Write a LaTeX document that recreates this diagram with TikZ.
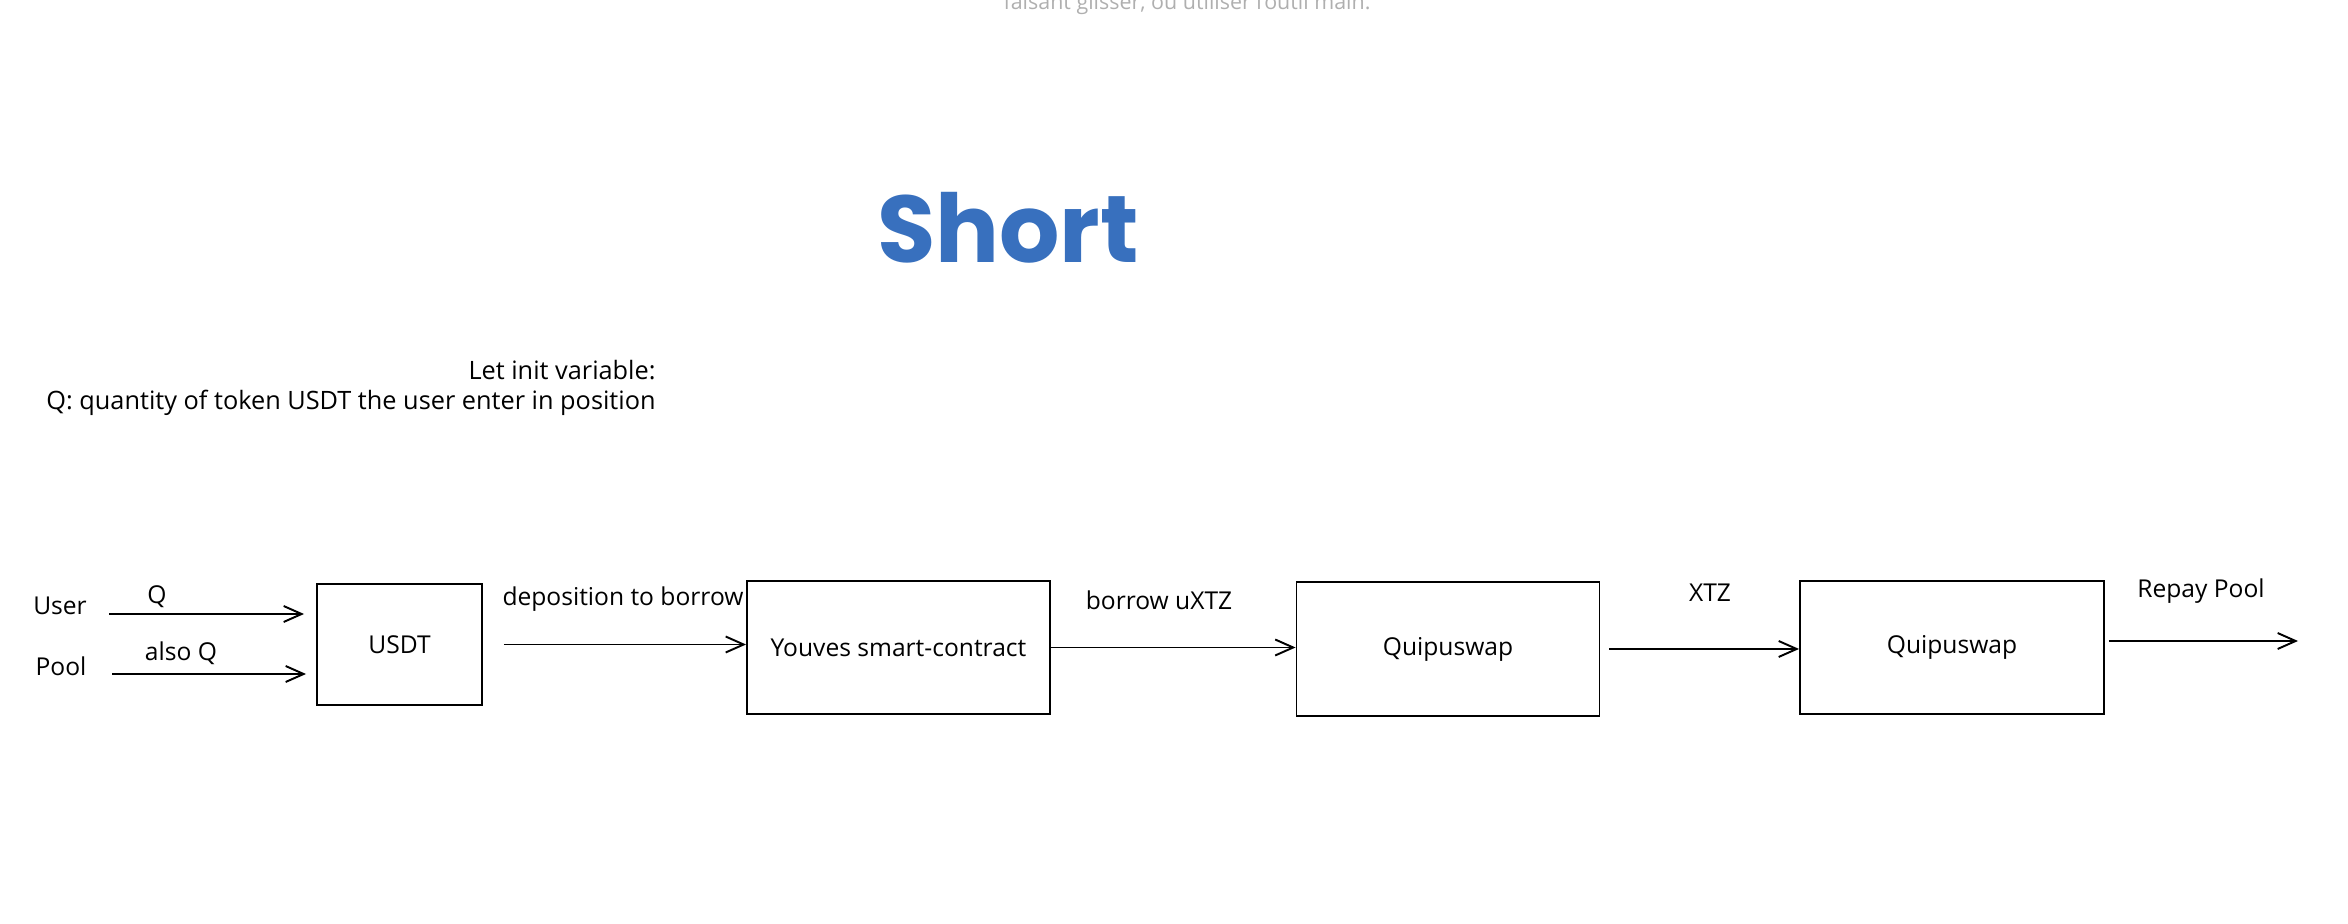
\documentclass[tikz,border=0pt]{standalone}
\usepackage{fontspec}
\usepackage{xcolor}
\usepackage{tikz}
\setmainfont{Open Sans}
\newfontfamily\titlefont{Poppins}
\definecolor{titleblue}{RGB}{56, 112, 190}
\definecolor{hintgray}{RGB}{175, 175, 175}
\usetikzlibrary{arrows.meta, positioning, calc}

\begin{document}
\begin{tikzpicture}[
    x=0.1mm, y=-0.1mm,
    every node/.style={font=\fontsize{7}{8.5}\selectfont},
    blk/.style={rectangle, draw, line width=0.55pt, minimum width=30.3mm, minimum height=13.3mm, inner sep=0pt},
    flow/.style={draw, line width=0.55pt, -{Straight Barb[length=1.8mm, width=1.6mm]}}
]
    \useasboundingbox (0, 0) rectangle (2348, 924);

    \node[font=\fontsize{6.1}{7}\selectfont, text=hintgray, anchor=base] (hint) at (1187, 10) {faisant glisser, ou utiliser l'outil main.};
    \node[font=\titlefont\bfseries\fontsize{27}{30}\selectfont, text=titleblue] (title) at (1008, 228) {Short};
    \node[align=right, anchor=east, font=\fontsize{7.2}{8.5}\selectfont] (vars) at (668, 388) {Let init variable:\\Q: quantity of token USDT the user enter in position};

    % boxes
    \node[blk, minimum width=16.5mm, minimum height=12.1mm] (usdt) at (399.5, 644.5) {USDT};
    \node[blk] (youves) at (898.5, 647.5) {Youves smart-contract};
    \node[blk, minimum height=13.4mm] (quipu1) at (1448, 649) {Quipuswap};
    \node[blk, minimum width=30.4mm] (quipu2) at (1952, 647.5) {Quipuswap};

    % sources and end points
    \node (user) at (60, 606) {User};
    \node (pool) at (61, 666) {Pool};
    \coordinate (userin) at (109, 614);
    \coordinate (poolin) at (112, 674);
    \coordinate (repay) at (2298, 641);

    \draw[flow, shorten >=1.2mm] (userin) -- (userin -| usdt.west);
    \draw[flow, shorten >=1mm] (poolin) -- (poolin -| usdt.west);
    \draw[flow, shorten <=2.1mm] (usdt.east) -- (usdt.east -| youves.west);
    \draw[flow] (youves.east) -- (youves.east -| quipu1.west);
    \draw[flow, shorten <=0.9mm] (quipu1.east) -- (quipu1.east -| quipu2.west);
    \draw[flow, shorten <=0.4mm] (quipu2.east |- repay) -- (repay);

    % arrow labels
    \node (q) at (157, 597) {Q};
    \node (alsoq) at (181, 653) {also Q};
    \node (deposit) at (623, 599) {deposition to borrow};
    \node (borrow) at (1159, 600) {borrow uXTZ};
    \node (xtz) at (1710, 593) {XTZ};
    \node (repaylbl) at (2201, 591) {Repay Pool};

\end{tikzpicture}
\end{document}
